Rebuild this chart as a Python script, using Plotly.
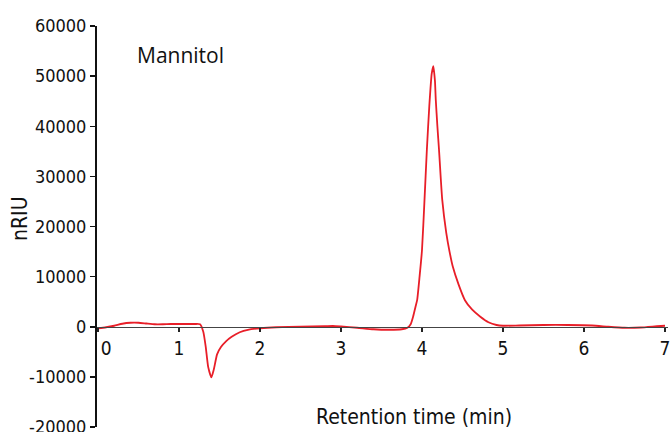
import plotly.graph_objects as go

# Retention time (min) and detector signal (nRIU)
time_min = [0.00, 0.10, 0.20, 0.30, 0.40, 0.50, 0.60, 0.70, 0.80, 0.90, 1.00, 1.10, 1.20, 1.26,
            1.30, 1.33, 1.36, 1.40, 1.43, 1.47, 1.52, 1.58, 1.65, 1.75, 1.85, 2.00, 2.20, 2.50,
            2.80, 2.90, 3.00, 3.20, 3.40, 3.60, 3.75, 3.82, 3.86, 3.89, 3.92, 3.94, 3.97, 4.00,
            4.03, 4.06, 4.09, 4.12, 4.14, 4.16, 4.17, 4.19, 4.21, 4.25, 4.30, 4.34, 4.38, 4.45,
            4.53, 4.62, 4.72, 4.82, 4.92, 5.00, 5.20, 5.50, 5.80, 6.10, 6.30, 6.50, 6.70, 6.90, 7.00]
signal_nriu = [-300, -100, 200, 600, 800, 800, 650, 500, 500, 550, 550, 550, 550, 500,
               -1000, -4000, -8000, -10100, -8500, -5500, -4000, -2900, -2000, -1100, -600, -300, -100, 0,
               100, 150, 50, -200, -500, -600, -500, -200, 500, 2000, 4000, 5300, 10000, 15300,
               25000, 35300, 44000, 50500, 52000, 49000, 45300, 40000, 35300, 25300, 18700, 15000, 12000, 8500,
               5300, 3400, 2000, 900, 350, 200, 250, 350, 350, 250, 0, -200, -150, 100, 200]

x_tickvals = [0, 1, 2, 3, 4, 5, 6, 7]
x_ticktext = ["\u00a0\u00a0\u00a00", "1", "2", "3", "4", "5", "6", "7"]
y_tickvals = [-20000, -10000, 0, 10000, 20000, 30000, 40000, 50000, 60000]
y_ticktext = ["-20000", "-10000", "0", "10000", "20000", "30000", "40000", "50000", "60000"]

sample_label = "Mannitol"
x_title = "Retention time (min)"
y_title = "nRIU"

narrow = "DejaVu Sans Condensed, Liberation Sans Narrow, sans-serif"

fig = go.Figure()
fig.add_trace(go.Scatter(
    x=time_min, y=signal_nriu, mode="lines",
    line=dict(color="rgb(232,30,40)", width=1.8, shape="spline", smoothing=0.5),
    hoverinfo="skip", showlegend=False,
))

fig.update_layout(
    width=671, height=432,
    margin=dict(l=97, r=3, t=26, b=5, autoexpand=False),
    paper_bgcolor="white", plot_bgcolor="white",
    font=dict(family=narrow, size=18, color="#111"),
    xaxis=dict(
        range=[-0.0123, 7.037], anchor="free", position=0.25, automargin=False,
        tickmode="array", tickvals=x_tickvals, ticktext=x_ticktext,
        ticks="outside", ticklen=4, tickwidth=1.3, tickcolor="#222",
        showline=True, linecolor="#444", linewidth=1.5,
        showgrid=False, zeroline=False, ticklabeloverflow="allow",
        tickfont=dict(family=narrow, size=19, color="#111"),
    ),
    yaxis=dict(
        range=[-20000, 60000], automargin=False,
        tickmode="array", tickvals=y_tickvals, ticktext=y_ticktext,
        ticks="outside", ticklen=5, tickwidth=1.5, tickcolor="#111",
        showline=True, linecolor="#111", linewidth=2,
        showgrid=False, zeroline=False, ticklabeloverflow="allow",
        tickfont=dict(family=narrow, size=18, color="#111"),
    ),
    annotations=[
        dict(text=sample_label, xref="paper", yref="paper", x=0.0665, y=0.928,
             xanchor="left", yanchor="middle", showarrow=False,
             font=dict(family="Open Sans, Noto Sans, sans-serif", size=21, color="#111")),
        dict(text=x_title, xref="paper", yref="paper", x=0.555, y=0.025,
             xanchor="center", yanchor="middle", showarrow=False,
             font=dict(family=narrow, size=21, color="#111")),
        dict(text=y_title, xref="paper", yref="paper", x=-0.135, y=0.521,
             xanchor="center", yanchor="middle", showarrow=False, textangle=-90,
             font=dict(family=narrow, size=21, color="#111")),
    ],
)

# remove the page's default body margin so the 671x432 figure fills the window
page_js = ("document.body.style.margin='0';"
           "document.body.style.overflow='hidden';"
           "document.documentElement.style.overflow='hidden';")
fig.write_html("out.html", post_script=page_js,
               config={"displayModeBar": False, "staticPlot": True})
